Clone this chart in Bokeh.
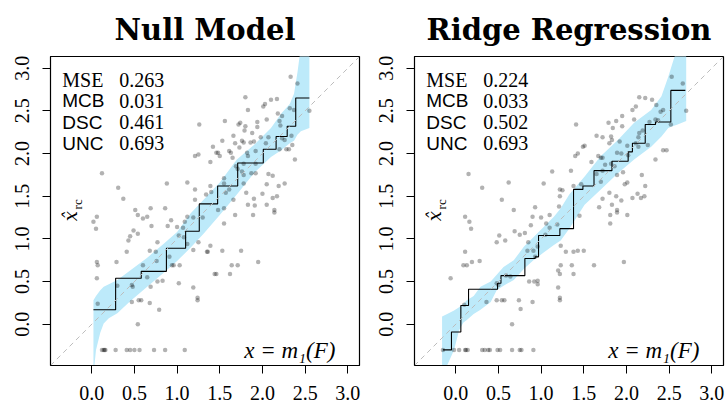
import math
from bokeh.plotting import figure
from bokeh.layouts import row
from bokeh.models import Label, Range1d, FixedTicker, Slope, PrintfTickFormatter
from bokeh.embed import file_html
from bokeh.resources import INLINE

# ---------------- data ----------------
titles = ["Null Model", "Ridge Regression"]
metric_names = ["MSE", "MCB", "DSC", "UNC"]
null_scores = ["0.263", "0.031", "0.461", "0.693"]
ridge_scores = ["0.224", "0.033", "0.502", "0.693"]
tick_values = [0.0, 0.5, 1.0, 1.5, 2.0, 2.5, 3.0]
axis_lo, axis_hi = -0.483, 3.137

# isotonic recalibration step function: breakpoints and levels
null_step_x = [0.02, 0.28, 0.58, 0.875, 1.10, 1.26, 1.475, 1.71, 2.01, 2.16, 2.29, 2.39, 2.55]
null_step_y = [0.17, 0.54, 0.62, 0.89, 1.09, 1.41, 1.62, 1.89, 2.05, 2.20, 2.32, 2.65, 2.65]
ridge_step_x = [-0.15, -0.05, 0.06, 0.15, 0.49, 0.53, 0.81, 0.93, 0.97, 1.22, 1.38, 1.49, 1.62,
                1.83, 2.02, 2.07, 2.22, 2.34, 2.52, 2.69]
ridge_step_y = [-0.30, -0.09, 0.22, 0.41, 0.48, 0.57, 0.77, 0.79, 1.04, 1.12, 1.58, 1.62, 1.80,
                1.91, 2.02, 2.12, 2.34, 2.37, 2.74, 2.74]

# consistency bands
null_band_x = [0.02, 0.05, 0.10, 0.14, 0.20, 0.30, 0.45, 0.65, 0.84, 1.00, 1.16, 1.31, 1.50,
               1.70, 1.90, 2.10, 2.22, 2.32, 2.37, 2.41, 2.45, 2.55]
null_band_hi = [0.28, 0.33, 0.40, 0.44, 0.47, 0.52, 0.63, 0.78, 0.94, 1.08, 1.30, 1.46, 1.66,
                1.93, 2.10, 2.30, 2.47, 2.58, 2.70, 2.95, 3.25, 3.25]
null_band_lo = [-0.60, -0.30, -0.10, 0.01, 0.07, 0.13, 0.27, 0.44, 0.60, 0.74, 0.90, 1.06, 1.28,
                1.52, 1.77, 1.96, 2.04, 2.12, 2.15, 2.22, 2.26, 2.30]
ridge_band_x = [-0.16, -0.10, -0.02, 0.04, 0.09, 0.13, 0.21, 0.29, 0.41, 0.48, 0.56, 0.68, 0.80,
                0.91, 1.03, 1.15, 1.23, 1.33, 1.51, 1.70, 1.90, 2.09, 2.29, 2.41, 2.49, 2.54,
                2.60, 2.70]
ridge_band_hi = [0.09, 0.12, 0.16, 0.20, 0.24, 0.28, 0.33, 0.44, 0.50, 0.58, 0.67, 0.75, 0.91,
                 1.02, 1.14, 1.26, 1.36, 1.52, 1.73, 1.97, 2.16, 2.36, 2.51, 2.67, 2.90, 3.06,
                 3.25, 3.25]
ridge_band_lo = [-0.60, -0.48, -0.30, -0.07, 0.02, 0.05, 0.12, 0.17, 0.26, 0.40, 0.45, 0.52, 0.65,
                 0.75, 0.84, 0.93, 0.98, 1.12, 1.40, 1.58, 1.77, 1.93, 2.08, 2.20, 2.30, 2.32,
                 2.34, 2.38]

# observations (forecast mean x, observed value y)
null_pts_x = [2.33, 2.41, 1.80, 2.03, 2.01, 2.10, 2.17, 1.83, 2.32, 2.37, 2.55, 2.18, 2.23, 2.05,
              1.56, 1.72, 1.74, 1.80, 1.94, 2.20, 2.21, 1.94, 1.79, 1.66, 1.88, 1.98, 2.07, 2.34,
              1.53, 1.76, 1.78, 1.86, 1.90, 2.04, 2.26, 2.35, 1.42, 1.68, 1.73, 1.46, 1.48, 1.50,
              1.61, 1.63, 1.82, 1.92, 2.20, 2.28, 2.31, 2.23, 1.39, 1.65, 1.83, 1.69, 1.78, 1.92,
              2.38, 1.71, 1.55, 1.76, 1.78, 1.87, 1.92, 2.07, 2.12, 1.39, 1.55, 1.61, 1.78, 2.05,
              2.19, 2.26, 1.40, 1.57, 1.66, 1.81, 1.90, 2.00, 2.12, 2.17, 1.55, 1.83, 1.91, 2.05,
              2.14, 1.48, 1.34,
              1.26, 1.21, 1.25, 0.12, 0.88, 1.12, 1.21, 0.31, 0.37, 1.21, 0.51, 0.69, 0.86,
              0.06, 0.02, 0.05, 0.54, 0.60, 0.65, 0.49, 0.54, 0.45, 0.43, 0.70, 0.77, 0.68, 0.75,
              0.41, 0.60, 0.76, 0.89, 0.93, 1.00, 1.02, 1.07, 1.09, 1.12, 1.08, 1.19, 1.30, 0.94,
              0.96, 1.03, 0.91, 1.12, 1.25, 1.19, 0.06, 0.07, 0.29, 0.06, 0.30, 0.47, 0.48, 0.69,
              0.65, 0.77, 0.83, 1.02, 1.19, 1.24, 1.24, 0.07, 0.47, 0.55, 0.58, 0.68, 0.79, 0.54,
              0.12, 0.14, 0.15, 0.16, 0.28, 0.41, 0.45, 0.50, 0.56, 0.73, 0.86, 1.09,
              1.68, 1.89, 2.14, 1.55, 1.39, 1.35, 1.36, 1.53, 1.75, 1.95, 1.64, 1.71, 1.46, 1.44,
              1.62]
null_pts_y = [2.90, 2.82, 2.66, 2.58, 2.55, 2.63, 2.64, 2.51, 2.53, 2.51, 2.50, 2.47, 2.44, 2.40,
              2.38, 2.34, 2.36, 2.32, 2.37, 2.38, 2.33, 2.31, 2.27, 2.21, 2.24, 2.19, 2.19, 2.21,
              2.15, 2.15, 2.13, 2.13, 2.14, 2.12, 2.16, 2.10, 2.08, 2.12, 2.07, 2.01, 2.01, 1.97,
              2.03, 2.01, 2.01, 2.03, 2.05, 2.05, 2.05, 2.18, 1.90, 1.95, 1.97, 1.85, 1.88, 1.88,
              1.93, 1.82, 1.71, 1.79, 1.75, 1.77, 1.77, 1.76, 1.74, 1.62, 1.65, 1.58, 1.65, 1.64,
              1.62, 1.65, 1.55, 1.54, 1.46, 1.54, 1.47, 1.53, 1.48, 1.50, 1.36, 1.40, 1.39, 1.40,
              1.34, 1.34, 1.52,
              2.34, 1.97, 1.99, 1.77, 1.65, 1.66, 1.58, 1.60, 1.47, 1.46, 1.34, 1.36, 1.36,
              1.26, 1.20, 1.12, 1.28, 1.24, 1.26, 1.10, 1.06, 1.03, 0.98, 1.15, 0.96, 0.86, 0.85,
              0.85, 0.69, 0.74, 1.15, 1.22, 1.14, 1.04, 1.13, 1.20, 1.26, 1.02, 1.25, 1.25, 0.69,
              0.69, 0.69, 0.79, 0.94, 0.96, 0.87, 0.73, 0.69, 0.73, 0.54, 0.45, 0.46, 0.44, 0.44,
              0.55, 0.50, 0.51, 0.48, 0.43, 0.31, 0.28, 0.24, 0.26, 0.28, 0.28, 0.25, 0.17, 0.00,
              -0.30, -0.30, -0.30, -0.30, -0.30, -0.30, -0.30, -0.30, -0.30, -0.30, -0.30, -0.30,
              1.28, 1.28, 1.31, 1.18, 0.92, 0.85, 0.85, 0.86, 0.86, 0.73, 0.69, 0.69, 0.59, 0.59,
              0.59]

ridge_pts_x = [0.15, 0.31, 0.54, 0.62, 1.03, 1.13, 1.22, 1.25, 1.22, 0.93, 0.68, 1.21,
               2.53, 2.66, 2.15, 2.22, 2.30, 2.07, 2.11, 2.35, 2.43, 2.40, 2.70, 1.95, 1.88, 2.09,
               2.27, 2.34, 2.37, 1.41, 1.79, 1.84, 1.95, 2.52, 1.65, 1.82, 2.15, 2.19, 1.49, 1.51,
               1.72, 1.80, 1.83, 1.92, 2.01, 2.14, 2.11, 2.14, 2.25, 1.43, 1.40, 1.67, 1.70, 1.72,
               1.89, 1.94, 2.02, 2.43, 2.47, 1.59, 1.75, 1.82, 1.86, 2.34, 1.35, 1.65, 1.72, 1.89,
               1.96, 2.18, 1.38, 1.47, 1.70, 1.98, 2.01, 2.22, 1.80, 1.88, 2.13, 2.07, 1.94, 1.72,
               2.17, 1.68, 1.83, 1.89, 2.21,
               0.11, 0.16, 0.18, -0.06, 0.11, 0.09, 0.13, 0.19, 0.28, 0.48, 0.51, 0.58, 0.69, 0.75,
               0.81, 0.90, 1.00, 0.88, 1.06, 1.10, 1.05, 0.85, 0.84, 0.91, 0.96, 0.93, 1.23, 1.29,
               1.23, 1.20, 1.22, 0.86, 0.92, 0.96, 0.96, 1.20, 1.22, 1.22, 0.50, 0.48, 0.59, 0.64,
               0.36, 0.48, 0.54, 0.57, 0.74, 0.76, 0.90, 0.10, 0.66, 1.10, 1.19,
               -0.15, -0.02, 0.04, 0.11, 0.12, 0.14, 0.31, 0.34, 0.38, 0.40, 0.49, 0.52, 0.66, 0.75,
               0.77, 0.91,
               1.81, 1.89, 2.01, 1.81, 1.45, 1.38, 1.43, 1.50, 1.36, 1.62, 1.97, 1.38]
ridge_pts_y = [1.76, 1.60, 1.46, 1.66, 1.65, 1.79, 1.58, 1.57, 1.50, 1.37, 1.34, 1.38,
               2.90, 2.82, 2.66, 2.65, 2.63, 2.51, 2.55, 2.57, 2.51, 2.49, 2.50, 2.44, 2.38, 2.40,
               2.37, 2.40, 2.39, 2.34, 2.36, 2.30, 2.32, 2.34, 2.21, 2.20, 2.24, 2.27, 2.08, 2.09,
               2.19, 2.12, 2.16, 2.14, 2.09, 2.19, 2.12, 2.08, 2.10, 2.00, 1.97, 1.97, 1.95, 1.95,
               2.01, 2.00, 1.98, 2.04, 2.04, 1.90, 1.87, 1.88, 1.85, 1.93, 1.80, 1.76, 1.80, 1.75,
               1.78, 1.75, 1.62, 1.64, 1.67, 1.64, 1.66, 1.62, 1.54, 1.50, 1.53, 1.48, 1.45, 1.47,
               1.48, 1.37, 1.40, 1.34, 1.50,
               1.26, 1.20, 1.12, 0.54, 0.85, 0.69, 0.69, 0.73, 0.74, 0.96, 1.04, 0.98, 1.09, 1.05,
               1.07, 1.26, 1.25, 1.16, 1.18, 1.13, 1.05, 0.96, 0.86, 0.86, 0.91, 0.79, 0.92, 0.85,
               0.69, 0.63, 0.59, 0.50, 0.50, 0.51, 0.47, 0.43, 0.31, 0.28, 0.46, 0.48, 0.57, 0.56,
               0.26, 0.28, 0.28, 0.28, 0.28, 0.18, 0.26, 0.23, 0.00, 1.28, 1.17,
               -0.30, -0.30, -0.30, -0.30, -0.30, -0.30, -0.30, -0.30, -0.30, -0.30, -0.30, -0.30,
               -0.30, -0.30, -0.30, -0.30,
               1.28, 1.31, 1.28, 1.18, 1.27, 0.85, 0.86, 0.86, 0.69, 0.69, 0.73, 0.59]

panels = [
    (titles[0], null_scores, null_step_x, null_step_y, null_band_x, null_band_lo, null_band_hi,
     null_pts_x, null_pts_y, 363, 50, 4),
    (titles[1], ridge_scores, ridge_step_x, ridge_step_y, ridge_band_x, ridge_band_lo, ridge_band_hi,
     ridge_pts_x, ridge_pts_y, 364, 51, 4),
]

SERIF = "Liberation Serif"
SANS = "Liberation Sans"

figs = []
for (title, scores, sx, sy, bx, blo, bhi, px, py, w, mleft, mright) in panels:
    p = figure(width=w, height=403, output_backend="svg", toolbar_location=None,
               x_range=Range1d(axis_lo, axis_hi), y_range=Range1d(axis_lo, axis_hi),
               min_border_left=mleft, min_border_right=mright, min_border_top=56,
               min_border_bottom=38)
    p.title.text = title
    p.title.align = "center"
    p.title.text_font = "DejaVu Serif"
    p.title.text_font_style = "bold"
    p.title.text_font_size = "29px"
    p.title.text_color = "black"
    p.title.standoff = 20
    p.grid.visible = False
    p.outline_line_color = "black"
    p.outline_line_width = 1.2
    p.outline_line_alpha = 1.0
    p.background_fill_color = "white"
    p.border_fill_color = "white"

    for ax in (p.xaxis[0], p.yaxis[0]):
        ax.ticker = FixedTicker(ticks=tick_values)
        ax.formatter = PrintfTickFormatter(format="%.1f")
        ax.minor_tick_line_color = None
        ax.major_tick_in = 0
        ax.major_tick_out = 8
        ax.major_tick_line_color = "black"
        ax.axis_line_color = "black"
        ax.major_label_text_font = SERIF
        ax.major_label_text_font_size = "20px"
        ax.major_label_text_color = "black"
    p.xaxis.major_label_standoff = 12
    p.yaxis.major_label_standoff = 13
    p.yaxis.major_label_orientation = "vertical"

    p.varea(x=bx, y1=blo, y2=bhi, fill_color="#bdeafa", fill_alpha=1.0)
    p.add_layout(Slope(gradient=1, y_intercept=0, line_color="#bdbdbd", line_width=1,
                       line_dash="5 4"))
    p.scatter(px, py, size=4.5, fill_color="black", fill_alpha=0.3, line_color=None)
    p.step(sx, sy, mode="after", line_color="black", line_width=1.1)

    # score table
    base_y = 2.865
    for i, (name, val) in enumerate(zip(metric_names, scores)):
        yy = base_y - 0.249 * i
        p.add_layout(Label(x=-0.345, y=yy, text=name,
                           text_font=SERIF if name == "MSE" else SANS,
                           text_font_size="20px" if name == "MSE" else "19px",
                           text_baseline="alphabetic", text_align="left", text_color="black"))
        p.add_layout(Label(x=0.322, y=yy, text=val, text_font=SERIF, text_font_size="20px",
                           text_baseline="alphabetic", text_align="left", text_color="black"))

    # axis captions inside the frame
    p.add_layout(Label(x=-0.245, y=1.265, text="x̂", text_font="DejaVu Serif",
                       text_font_style="italic", text_font_size="18px", angle=math.pi / 2,
                       text_align="center", text_baseline="middle", text_color="black"))
    p.add_layout(Label(x=-0.165, y=1.405, text="rc", text_font=SERIF, text_font_size="13px",
                       angle=math.pi / 2, text_align="center", text_baseline="middle",
                       text_color="black"))
    p.add_layout(Label(x=2.855, y=-0.305, text="x = m₁(F)", text_font=SERIF,
                       text_font_style="italic", text_font_size="23px", text_align="right",
                       text_baseline="alphabetic", text_color="black"))
    figs.append(p)

layout = row(*figs)
open("out.html", "w").write(file_html(layout, INLINE))
